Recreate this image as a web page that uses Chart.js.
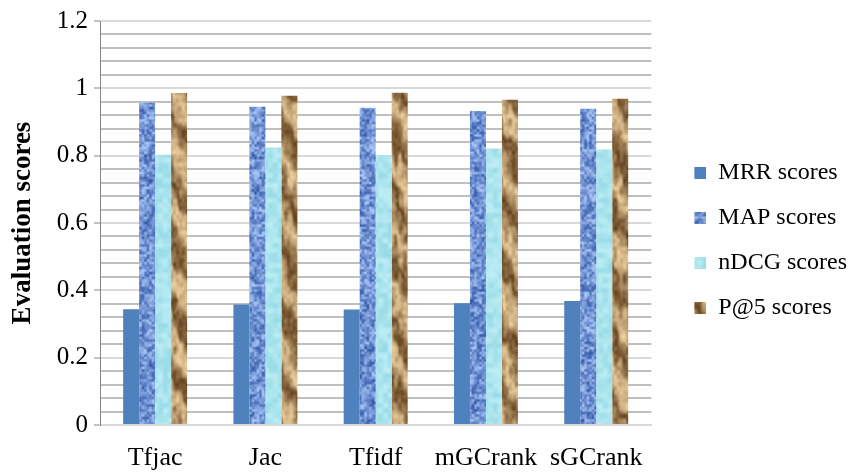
<!DOCTYPE html>
<html>
<head>
<meta charset="utf-8">
<script src="https://cdn.jsdelivr.net/npm/chart.js@4"></script>
<style>
  body { margin: 0; background: #fff; }
  #wrap { width: 857px; height: 472px; }
</style>
</head>
<body>
<div id="wrap"><canvas id="chart"></canvas></div>
<script>
const categories = ['Tfjac', 'Jac', 'Tfidf', 'mGCrank', 'sGCrank'];
const mrrScores = [0.344, 0.358, 0.343, 0.362, 0.368];
const mapScores = [0.957, 0.945, 0.942, 0.933, 0.939];
const ndcgScores = [0.803, 0.824, 0.801, 0.821, 0.818];
const p5Scores = [0.986, 0.978, 0.987, 0.966, 0.969];
const seriesNames = ['MRR scores', 'MAP scores', 'nDCG scores', 'P@5 scores'];
const yMax = 1.2;
const majorStep = 0.2;
const minorStep = 0.04;

const serif = '"Liberation Serif", "Times New Roman", serif';

// small deterministic value noise, only used for the bar textures
function hash(x, y) {
  const s = Math.sin(x * 127.1 + y * 311.7) * 43758.5453;
  return s - Math.floor(s);
}
function noise(x, y) {
  const ix = Math.floor(x), iy = Math.floor(y);
  const fx = x - ix, fy = y - iy;
  const ux = fx * fx * (3 - 2 * fx), uy = fy * fy * (3 - 2 * fy);
  const a = hash(ix, iy), b = hash(ix + 1, iy);
  const c = hash(ix, iy + 1), d = hash(ix + 1, iy + 1);
  return a + (b - a) * ux + (c - a) * uy + (a - b - c + d) * ux * uy;
}
function mix(c1, c2, t) {
  t = Math.max(0, Math.min(1, t));
  return [0, 1, 2].map(i => Math.round(c1[i] + (c2[i] - c1[i]) * t));
}
function makeTexture(w, h, colorAt) {
  const cv = document.createElement('canvas');
  cv.width = w; cv.height = h;
  const ctx = cv.getContext('2d');
  const img = ctx.createImageData(w, h);
  for (let y = 0; y < h; y++) {
    for (let x = 0; x < w; x++) {
      const c = colorAt(x, y);
      const i = (y * w + x) * 4;
      img.data[i] = c[0]; img.data[i + 1] = c[1]; img.data[i + 2] = c[2]; img.data[i + 3] = 255;
    }
  }
  ctx.putImageData(img, 0, 0);
  return cv;
}
const mainCtx = document.getElementById('chart').getContext('2d');
const toPattern = (cv) => mainCtx.createPattern(cv, 'repeat');

// legend swatch: transparent margin on the left, 12px square on the right
const swatchGap = 22, swatchSize = 12;
function makeSwatch(fill, srcX, srcY) {
  const cv = document.createElement('canvas');
  cv.width = swatchGap + swatchSize; cv.height = swatchSize;
  const ctx = cv.getContext('2d');
  if (typeof fill === 'string') {
    ctx.fillStyle = fill;
    ctx.fillRect(swatchGap, 0, swatchSize, swatchSize);
  } else {
    ctx.drawImage(fill, srcX, srcY, swatchSize, swatchSize, swatchGap, 0, swatchSize, swatchSize);
  }
  return cv;
}

const W = 860, H = 480;
const mapTex = makeTexture(W, H, (x, y) => {
  const n = noise(x / 2.5, y / 2.5) * 0.7 + noise(x / 6, y / 6) * 0.3;
  return mix([52, 88, 168], [165, 195, 245], n * 1.3 - 0.1);
});
const ndcgTex = makeTexture(W, H, (x, y) => {
  const n = noise(x / 5, y / 5);
  return mix([150, 218, 230], [190, 238, 245], n);
});
const woodTex = makeTexture(W, H, (x, y) => {
  const n = noise(x / 5, y / 12);
  const streak = Math.sin((y * 0.9 - x * 1.6) / 9 + n * 3);
  const t = 0.5 + 0.35 * streak + (noise(x / 3, y / 4) - 0.5) * 0.3;
  return mix([238, 208, 160], [96, 62, 26], t);
});

const mrrColor = '#4F81BD';
const isMajor = v => Math.round(v * 100) % Math.round(majorStep * 100) === 0;

new Chart(document.getElementById('chart'), {
  type: 'bar',
  data: {
    labels: categories,
    datasets: [
      { label: seriesNames[0], data: mrrScores, backgroundColor: mrrColor,
        pointStyle: makeSwatch(mrrColor) },
      { label: seriesNames[1], data: mapScores, backgroundColor: toPattern(mapTex),
        pointStyle: makeSwatch(mapTex, 100, 100) },
      { label: seriesNames[2], data: ndcgScores, backgroundColor: toPattern(ndcgTex),
        pointStyle: makeSwatch(ndcgTex, 100, 100) },
      { label: seriesNames[3], data: p5Scores, backgroundColor: toPattern(woodTex),
        pointStyle: makeSwatch(woodTex, 101, 60) }
    ]
  },
  options: {
    responsive: true,
    maintainAspectRatio: false,
    animation: false,
    layout: { padding: { top: 9, right: 0, left: 0, bottom: 0 } },
    datasets: { bar: { barPercentage: 1, categoryPercentage: 0.58 } },
    plugins: {
      tooltip: { enabled: false },
      legend: {
        position: 'right',
        labels: {
          usePointStyle: true,
          pointStyleWidth: swatchGap + swatchSize,
          boxHeight: swatchSize,
          padding: 21,
          color: '#000',
          font: { family: serif, size: 24 }
        }
      }
    },
    scales: {
      x: {
        grid: { display: false },
        border: { color: '#D9D9D9', width: 2 },
        ticks: {
          color: '#000',
          padding: 10,
          autoSkip: false,
          maxRotation: 0,
          minRotation: 0,
          font: { family: serif, size: 26 }
        },
        afterFit: (scale) => { scale.height = 47; }
      },
      y: {
        min: 0,
        max: yMax,
        border: { color: '#868686', width: 1 },
        grid: {
          color: (ctx) => isMajor(ctx.tick.value) ? '#D9D9D9' : '#BFBFBF',
          lineWidth: 2,
          tickLength: 6,
          tickColor: (ctx) => isMajor(ctx.tick.value) ? '#868686' : 'rgba(0,0,0,0)',
          tickWidth: 1
        },
        ticks: {
          stepSize: minorStep,
          autoSkip: false,
          color: '#000',
          padding: 6,
          font: { family: serif, size: 25 },
          callback: (v) => isMajor(v) ? String(parseFloat(v.toFixed(1))) : ''
        },
        title: {
          display: true,
          text: 'Evaluation scores',
          color: '#000',
          padding: { top: 7, bottom: 0 },
          font: { family: serif, size: 27, weight: 'bold' }
        },
        afterFit: (scale) => { scale.width = 100; }
      }
    }
  }
});
</script>
</body>
</html>
